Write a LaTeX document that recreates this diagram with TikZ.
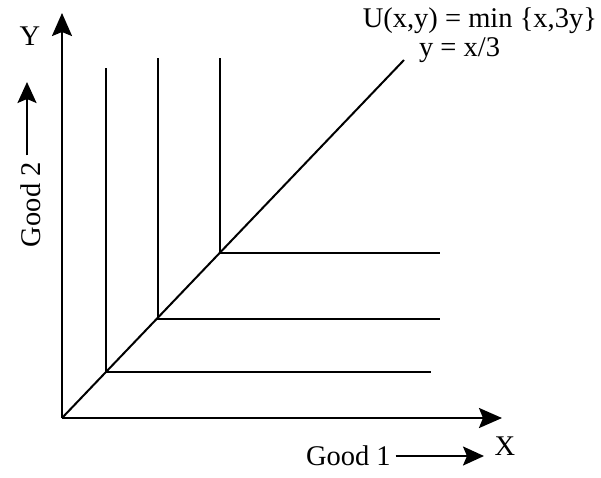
\documentclass[tikz,border=0pt]{standalone}
\usepackage{fontspec}
\setmainfont{Liberation Serif}
\usetikzlibrary{arrows.meta}
\begin{document}
\begin{tikzpicture}[x=1pt,y=-1pt,line width=2pt,
  lbl/.style={inner sep=0pt,font=\fontsize{28.5}{32}\selectfont},
  axis/.style={-{Stealth[length=23pt,width=20pt,inset=4pt]},line width=2.3pt},
  small/.style={-{Stealth[length=21pt,width=19pt,inset=4pt]},line width=2.2pt},
  curve/.style={line width=2.3pt}]
\useasboundingbox (0,0) rectangle (601,477);
\coordinate (O) at (62,418);
\coordinate (Ytip) at (62,13);
\coordinate (Xtip) at (502,418);
\coordinate (D) at (404,60);
\coordinate (c1) at (106,372); \coordinate (t1) at (106,68); \coordinate (e1) at (431,372);
\coordinate (c2) at (158,319); \coordinate (t2) at (158,58); \coordinate (e2) at (440,319);
\coordinate (c3) at (220,253); \coordinate (t3) at (220,58); \coordinate (e3) at (440,253);
\draw[axis] (O) -- (Ytip);
\draw[axis] (O) -- (Xtip);
\draw (O) -- (D);
\draw[curve] (t1) -- (c1) -- (e1);
\draw[curve] (t2) -- (c2) -- (e2);
\draw[curve] (t3) -- (c3) -- (e3);
\node[lbl] (Ylbl) at (30,36) {Y};
\node[lbl] (Xlbl) at (505,446) {X};
\node[lbl,anchor=base east] (U) at (598,27) {U(x,y) = min \{x,3y\}};
\node[lbl,anchor=base west] (ray) at (418,56) {y = x/3};
\node[lbl,anchor=base west] (g1) at (305,465) {Good 1};
\node[lbl,rotate=90,anchor=base west] (g2) at (40,248) {Good 2};
\coordinate (g1a) at (484,456);
\coordinate (g2a) at (27,82);
\draw[small] (g1.east |- g1a) ++(4,0) coordinate (g1s) -- (g1a);
\draw[small] (g2.east -| g2a) ++(0,-6) coordinate (g2s) -- (g2a);
\end{tikzpicture}
\end{document}
